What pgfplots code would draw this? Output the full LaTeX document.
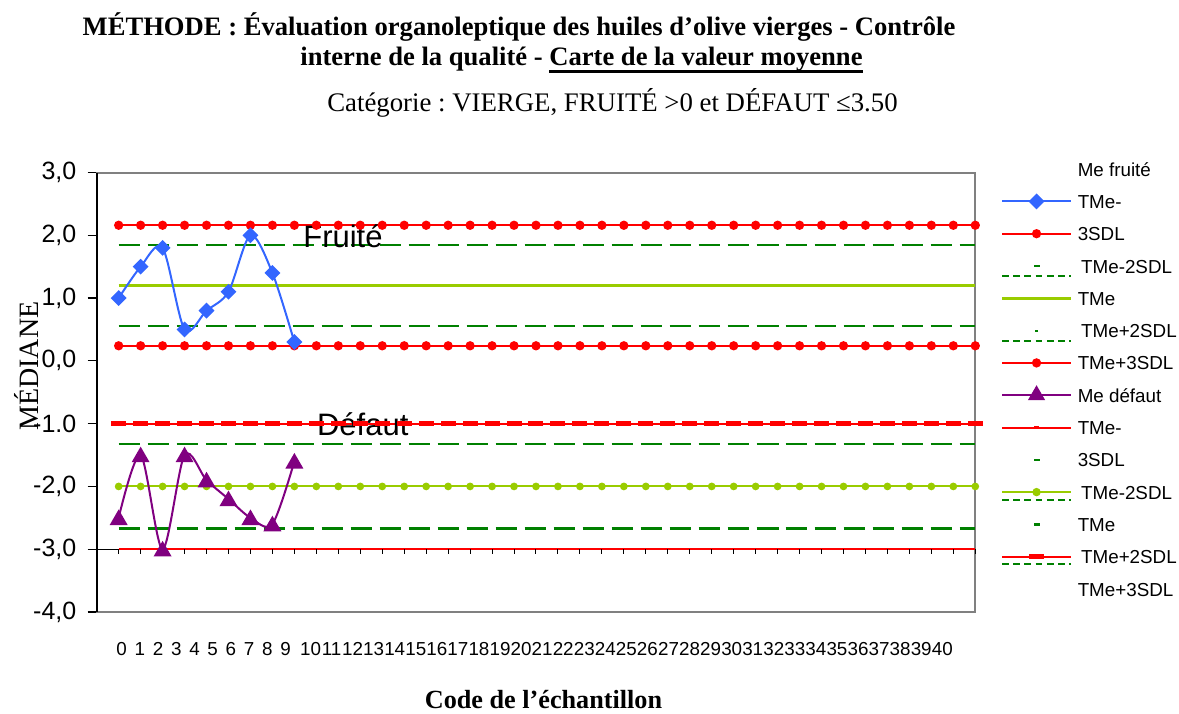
\documentclass[border=0pt]{standalone}
\usepackage{fontspec}
\setmainfont{Liberation Sans}
\newfontfamily\tnr{Liberation Serif}
\usepackage{pgfplots}
\usepackage{pgfplotstable}
\pgfplotsset{compat=1.18}
\frenchspacing
\definecolor{cblue}{RGB}{51,102,255}
\definecolor{cred}{RGB}{255,0,0}
\definecolor{cgreen}{RGB}{0,128,0}
\definecolor{clime}{RGB}{153,204,0}
\definecolor{cpurple}{RGB}{128,0,128}
\definecolor{cframe}{RGB}{128,128,128}
\newcommand\thickul[1]{\setbox0\hbox{#1}\rlap{\rule[-3.4pt]{\wd0}{1.3pt}}\box0}

\pgfplotstableread{
x fru def
0 1.0 -2.5
1 1.5 -1.5
2 1.8 -3.0
3 0.5 -1.5
4 0.8 -1.9
5 1.1 -2.2
6 2.0 -2.5
7 1.4 -2.6
8 0.3 -1.6
}\medianes

\pgfplotstableread{
x fp3 fp2 ft fm2 fm3 dp3 dp2 dt dm2 dm3
0 2.16 1.84 1.20 0.56 0.24 -1.00 -1.33 -2.00 -2.67 -3.00
1 2.16 1.84 1.20 0.56 0.24 -1.00 -1.33 -2.00 -2.67 -3.00
2 2.16 1.84 1.20 0.56 0.24 -1.00 -1.33 -2.00 -2.67 -3.00
3 2.16 1.84 1.20 0.56 0.24 -1.00 -1.33 -2.00 -2.67 -3.00
4 2.16 1.84 1.20 0.56 0.24 -1.00 -1.33 -2.00 -2.67 -3.00
5 2.16 1.84 1.20 0.56 0.24 -1.00 -1.33 -2.00 -2.67 -3.00
6 2.16 1.84 1.20 0.56 0.24 -1.00 -1.33 -2.00 -2.67 -3.00
7 2.16 1.84 1.20 0.56 0.24 -1.00 -1.33 -2.00 -2.67 -3.00
8 2.16 1.84 1.20 0.56 0.24 -1.00 -1.33 -2.00 -2.67 -3.00
9 2.16 1.84 1.20 0.56 0.24 -1.00 -1.33 -2.00 -2.67 -3.00
10 2.16 1.84 1.20 0.56 0.24 -1.00 -1.33 -2.00 -2.67 -3.00
11 2.16 1.84 1.20 0.56 0.24 -1.00 -1.33 -2.00 -2.67 -3.00
12 2.16 1.84 1.20 0.56 0.24 -1.00 -1.33 -2.00 -2.67 -3.00
13 2.16 1.84 1.20 0.56 0.24 -1.00 -1.33 -2.00 -2.67 -3.00
14 2.16 1.84 1.20 0.56 0.24 -1.00 -1.33 -2.00 -2.67 -3.00
15 2.16 1.84 1.20 0.56 0.24 -1.00 -1.33 -2.00 -2.67 -3.00
16 2.16 1.84 1.20 0.56 0.24 -1.00 -1.33 -2.00 -2.67 -3.00
17 2.16 1.84 1.20 0.56 0.24 -1.00 -1.33 -2.00 -2.67 -3.00
18 2.16 1.84 1.20 0.56 0.24 -1.00 -1.33 -2.00 -2.67 -3.00
19 2.16 1.84 1.20 0.56 0.24 -1.00 -1.33 -2.00 -2.67 -3.00
20 2.16 1.84 1.20 0.56 0.24 -1.00 -1.33 -2.00 -2.67 -3.00
21 2.16 1.84 1.20 0.56 0.24 -1.00 -1.33 -2.00 -2.67 -3.00
22 2.16 1.84 1.20 0.56 0.24 -1.00 -1.33 -2.00 -2.67 -3.00
23 2.16 1.84 1.20 0.56 0.24 -1.00 -1.33 -2.00 -2.67 -3.00
24 2.16 1.84 1.20 0.56 0.24 -1.00 -1.33 -2.00 -2.67 -3.00
25 2.16 1.84 1.20 0.56 0.24 -1.00 -1.33 -2.00 -2.67 -3.00
26 2.16 1.84 1.20 0.56 0.24 -1.00 -1.33 -2.00 -2.67 -3.00
27 2.16 1.84 1.20 0.56 0.24 -1.00 -1.33 -2.00 -2.67 -3.00
28 2.16 1.84 1.20 0.56 0.24 -1.00 -1.33 -2.00 -2.67 -3.00
29 2.16 1.84 1.20 0.56 0.24 -1.00 -1.33 -2.00 -2.67 -3.00
30 2.16 1.84 1.20 0.56 0.24 -1.00 -1.33 -2.00 -2.67 -3.00
31 2.16 1.84 1.20 0.56 0.24 -1.00 -1.33 -2.00 -2.67 -3.00
32 2.16 1.84 1.20 0.56 0.24 -1.00 -1.33 -2.00 -2.67 -3.00
33 2.16 1.84 1.20 0.56 0.24 -1.00 -1.33 -2.00 -2.67 -3.00
34 2.16 1.84 1.20 0.56 0.24 -1.00 -1.33 -2.00 -2.67 -3.00
35 2.16 1.84 1.20 0.56 0.24 -1.00 -1.33 -2.00 -2.67 -3.00
36 2.16 1.84 1.20 0.56 0.24 -1.00 -1.33 -2.00 -2.67 -3.00
37 2.16 1.84 1.20 0.56 0.24 -1.00 -1.33 -2.00 -2.67 -3.00
38 2.16 1.84 1.20 0.56 0.24 -1.00 -1.33 -2.00 -2.67 -3.00
39 2.16 1.84 1.20 0.56 0.24 -1.00 -1.33 -2.00 -2.67 -3.00
}\limites

\def\lgy{1pt}
\pgfplotsset{
  lgline/.style={legend image code/.code={%
    \path[draw=none,fill=none] (0pt,-2.5pt) rectangle (34.5pt,2.5pt);
    \draw[overlay,mark repeat=2,mark phase=2,##1] plot coordinates {(0pt,\lgy) (17.25pt,\lgy) (34.5pt,\lgy)};}},
  lglinedash/.style={legend image code/.code={%
    \path[draw=none,fill=none] (0pt,-2.5pt) rectangle (34.5pt,2.5pt);
    \draw[overlay,cgreen,line width=0.9pt,dash pattern=on 3.4pt off 2.2pt] (0pt,\lgy-3.8pt) -- (34.5pt,\lgy-3.8pt);
    \draw[overlay,mark repeat=2,mark phase=2,##1] plot coordinates {(0pt,\lgy) (17.25pt,\lgy) (34.5pt,\lgy)};}},
  lgmarkdash/.style={legend image code/.code={%
    \path[draw=none,fill=none] (0pt,-2.5pt) rectangle (34.5pt,2.5pt);
    \draw[overlay,##1] plot coordinates {(17.25pt,\lgy)};
    \draw[overlay,cgreen,line width=0.9pt,dash pattern=on 3.4pt off 2.2pt] (0pt,\lgy-5pt) -- (34.5pt,\lgy-5pt);}},
  lgmarkonly/.style={legend image code/.code={%
    \path[draw=none,fill=none] (0pt,-2.5pt) rectangle (34.5pt,2.5pt);
    \draw[overlay,##1] plot coordinates {(17.25pt,\lgy)};}},
}

\begin{document}
\begin{tikzpicture}
\path[use as bounding box] (0,0) rectangle (589.5pt,356.5pt);

\begin{axis}[
  at={(48.35pt,50.5pt)}, anchor=south west,
  scale only axis, width=439.3pt, height=219.75pt,
  xmin=-1, xmax=39, ymin=-4, ymax=3,
  clip=false,
  axis line style={cframe, line width=1pt},
  xtick={0.138,0.967,1.795,2.624,3.452,4.281,5.110,5.938,6.767,7.595,8.734,9.693,10.651,11.610,12.569,13.528,14.487,15.445,16.404,17.363,18.322,19.280,20.239,21.198,22.157,23.116,24.074,25.033,25.992,26.951,27.910,28.868,29.827,30.786,31.745,32.703,33.662,34.621,35.580,36.539,37.498},
  xticklabels={0,1,2,3,4,5,6,7,8,9,10,11,12,13,14,15,16,17,18,19,20,21,22,23,24,25,26,27,28,29,30,31,32,33,34,35,36,37,38,39,40},
  xtick style={draw=none},
  xticklabel style={font=\fontsize{9.4}{10}\selectfont, anchor=north, inner sep=0pt, yshift=-10.5pt},
  ytick={-4,-3,-2,-1,0,1,2,3},
  yticklabels={{-4,0},{-3,0},{-2,0},{-1.0},{0,0},{1,0},{2,0},{3,0}},
  ytick pos=left, xtick pos=bottom,
  tick align=outside, major tick length=4.5pt,
  ytick style={black, line width=0.6pt},
  yticklabel style={font=\fontsize{12.5}{13}\selectfont, anchor=east, inner sep=0pt, xshift=-5.5pt},
  legend cell align=left,
  legend style={at={(axis description cs:1.030,1.0246)}, anchor=north west, draw=none, fill=none,
    inner sep=0pt, row sep=7.15pt, column sep=3.35pt,
    nodes={inner sep=0pt, text height=7pt, text depth=2pt, font=\fontsize{9.4}{10}\selectfont}},
]
% x axis line at -3 with ticks
\addplot[black, line width=0.7pt, forget plot] coordinates {(-1,-3) (39,-3)};
\addplot[only marks, black, mark=|, mark size=1.2pt, mark options={yshift=-1.2pt, line width=0.5pt}, forget plot] table[x=x,y=dm3]{\limites};
\draw[black, line width=0.8pt] (rel axis cs:0,0) -- (rel axis cs:0,1);

% Fruité control lines
\addplot[cgreen, line width=1.1pt, dash pattern=on 10.5pt off 4pt, forget plot] table[x=x,y=fp2]{\limites};
\addplot[cgreen, line width=1.1pt, dash pattern=on 10.5pt off 4pt, forget plot] table[x=x,y=fm2]{\limites};
\addplot[clime, line width=1.3pt, forget plot] table[x=x,y=ft]{\limites};
\addplot[cred, line width=1pt, mark=*, mark size=1.8pt, forget plot] table[x=x,y=fp3]{\limites};
\addplot[cred, line width=1pt, mark=*, mark size=1.8pt, forget plot] table[x=x,y=fm3]{\limites};

% Défaut control lines
\addplot[cgreen, line width=1.1pt, dash pattern=on 10.5pt off 4pt, forget plot] table[x=x,y=dp2]{\limites};
\addplot[cgreen, line width=1.1pt, dash pattern=on 10.5pt off 4pt, forget plot] table[x=x,y=dm2]{\limites};
\addplot[clime, line width=1pt, mark=*, mark size=1.4pt, forget plot] table[x=x,y=dt]{\limites};
\addplot[cred, line width=1pt, mark=-, mark size=3.75pt, mark options={line width=2.6pt}, forget plot] table[x=x,y=dp3]{\limites};
\addplot[cred, line width=1.1pt, forget plot] table[x=x,y=dm3]{\limites};

% medians
\addplot[cblue, line width=1pt, smooth, mark=square*, mark size=2.3pt, mark options={rotate=45}, forget plot] table[x=x,y=fru]{\medianes};
\addplot[cpurple, line width=1pt, smooth, mark=triangle*, mark size=4.2pt, mark options={yshift=-1pt}, forget plot] table[x=x,y=def]{\medianes};

\node[anchor=base west, inner sep=0pt, font=\fontsize{15.5}{16}\selectfont] at (axis cs:8.39,1.813) {Fruité};
\node[anchor=base west, inner sep=0pt, font=\fontsize{15.5}{16}\selectfont] at (axis cs:9.016,-1.181) {Défaut};

% legend
\addlegendimage{empty legend}\addlegendentry{Me fruité}
\addlegendimage{cblue, line width=1pt, mark=square*, mark size=2.3pt, mark options={rotate=45}, lgline}\addlegendentry{TMe-}
\addlegendimage{cred, line width=1pt, mark=*, mark size=1.8pt, lgline}\addlegendentry{3SDL}
\addlegendimage{cgreen, mark=-, mark size=1.5pt, line width=1pt, lgmarkdash}\addlegendentry{\hspace{1.7pt}TMe-2SDL}
\addlegendimage{clime, line width=1.3pt, mark=-, mark size=1.5pt, lgline}\addlegendentry{TMe}
\addlegendimage{cgreen, mark=-, mark size=0.8pt, line width=1pt, lgmarkdash}\addlegendentry{\hspace{1.7pt}TMe+2SDL}
\addlegendimage{cred, line width=1pt, mark=*, mark size=1.8pt, lgline}\addlegendentry{TMe+3SDL}
\addlegendimage{cpurple, line width=1pt, mark=triangle*, mark size=4pt, lgline}\addlegendentry{Me défaut}
\addlegendimage{cred, line width=1pt, mark=-, mark size=1.2pt, mark options={line width=1.6pt}, lgline}\addlegendentry{TMe-}
\addlegendimage{cgreen, mark=-, mark size=1.5pt, line width=1.2pt, lgmarkonly}\addlegendentry{3SDL}
\addlegendimage{clime, line width=1.3pt, mark=*, mark size=1.4pt, lglinedash}\addlegendentry{\hspace{1.7pt}TMe-2SDL}
\addlegendimage{cgreen, mark=-, mark size=1.5pt, line width=1.2pt, lgmarkonly}\addlegendentry{TMe}
\addlegendimage{cred, line width=1pt, mark=-, mark size=3.75pt, mark options={line width=2.4pt}, lglinedash}\addlegendentry{\hspace{1.7pt}TMe+2SDL}
\addlegendimage{empty legend}\addlegendentry{TMe+3SDL}
\end{axis}

% titles
\node[anchor=base, inner sep=0pt, font=\tnr\bfseries\fontsize{13.3}{15}\selectfont] at (259.5pt,338.5pt)
  {MÉTHODE : Évaluation organoleptique des huiles d’olive vierges - Contrôle};
\node[anchor=base, inner sep=0pt, font=\tnr\bfseries\fontsize{13.3}{15}\selectfont] at (290.75pt,323.5pt)
  {interne de la qualité - \thickul{Carte de la valeur moyenne}};
\node[anchor=base, inner sep=0pt, font=\tnr\fontsize{13.4}{15}\selectfont] at (306.25pt,300.5pt)
  {Catégorie : VIERGE, FRUITÉ >0 et DÉFAUT ≤3.50};
\node[anchor=base, inner sep=0pt, font=\tnr\bfseries\fontsize{13.1}{15}\selectfont] at (271.75pt,2.5pt)
  {Code de l’échantillon};
\node[rotate=90, anchor=center, inner sep=0pt, font=\tnr\fontsize{14}{15}\selectfont] at (13.5pt,173.5pt)
  {MÉDIANE};
\end{tikzpicture}
\end{document}
